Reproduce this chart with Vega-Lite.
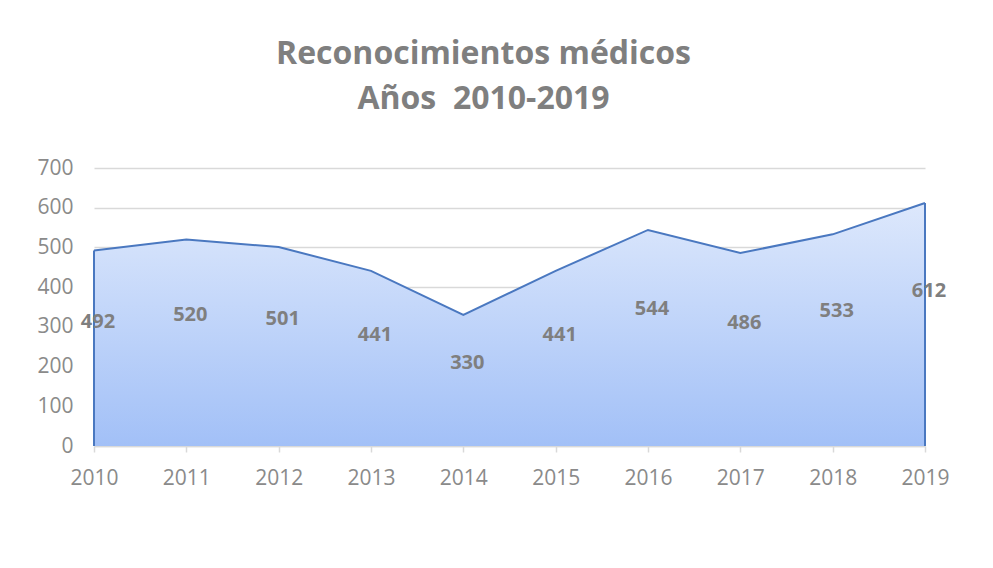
{
  "$schema": "https://vega.github.io/schema/vega-lite/v6.json",
  "width": 831,
  "height": 278,
  "autosize": {"type": "none"},
  "padding": {"left": 94, "top": 168, "right": 68, "bottom": 122},
  "background": "white",
  "config": {
    "view": {"stroke": null},
    "font": "Open Sans"
  },
  "title": {
    "text": ["Reconocimientos médicos", "Años\u00a0\u00a02010-2019"],
    "font": "Open Sans",
    "fontSize": 32,
    "fontWeight": "bold",
    "color": "#7f7f7f",
    "lineHeight": 45,
    "anchor": "middle",
    "dx": -26,
    "offset": 41
  },
  "data": {
    "values": [
      {"year": "2010", "value": 492},
      {"year": "2011", "value": 520},
      {"year": "2012", "value": 501},
      {"year": "2013", "value": 441},
      {"year": "2014", "value": 330},
      {"year": "2015", "value": 441},
      {"year": "2016", "value": 544},
      {"year": "2017", "value": 486},
      {"year": "2018", "value": 533},
      {"year": "2019", "value": 612}
    ]
  },
  "layer": [
    {
      "mark": {
        "type": "area",
        "opacity": 1,
        "color": {
          "gradient": "linear",
          "x1": 0, "y1": 0, "x2": 0, "y2": 1,
          "stops": [
            {"offset": 0, "color": "#dde8fc"},
            {"offset": 1, "color": "#a2c0f7"}
          ]
        },
        "line": {"color": "#4a78c0", "strokeWidth": 2}
      },
      "encoding": {
        "x": {
          "field": "year", "type": "ordinal",
          "scale": {"type": "point", "padding": 0},
          "axis": {
            "title": null, "labelAngle": 0, "labelFontSize": 21, "labelColor": "#8a8a8a",
            "labelPadding": 15, "domainColor": "#d9d9d9", "domainWidth": 1.5,
            "tickColor": "#d9d9d9", "tickSize": 6, "tickWidth": 1.5, "grid": false,
            "labelFont": "Open Sans"
          }
        },
        "y": {
          "field": "value", "type": "quantitative",
          "scale": {"domain": [0, 700], "nice": false},
          "axis": {
            "title": null, "values": [0, 100, 200, 300, 400, 500, 600, 700],
            "labelFontSize": 21, "labelColor": "#8a8a8a", "labelPadding": 21,
            "domain": false, "ticks": false, "gridColor": "#d9d9d9", "gridWidth": 1.5,
            "labelFont": "Open Sans"
          }
        }
      }
    },
    {
      "transform": [{"filter": "datum.year == '2010' || datum.year == '2019'"}],
      "mark": {"type": "rule", "color": "#4a78c0", "strokeWidth": 2},
      "encoding": {
        "x": {"field": "year", "type": "ordinal"},
        "y": {
          "field": "value", "type": "quantitative",
          "scale": {"domain": [0, 700], "nice": false},
          "axis": null
        },
        "y2": {"datum": 0}
      }
    },
    {
      "mark": {"type": "text", "fontSize": 20, "fontWeight": "bold", "color": "#7f7f7f", "dx": 4, "baseline": "middle"},
      "encoding": {
        "x": {"field": "year", "type": "ordinal"},
        "y": {
          "field": "value", "type": "quantitative",
          "scale": {"domain": [0, 1100], "nice": false},
          "axis": null
        },
        "text": {"field": "value", "type": "quantitative"}
      }
    }
  ],
  "resolve": {"scale": {"y": "independent"}}
}
